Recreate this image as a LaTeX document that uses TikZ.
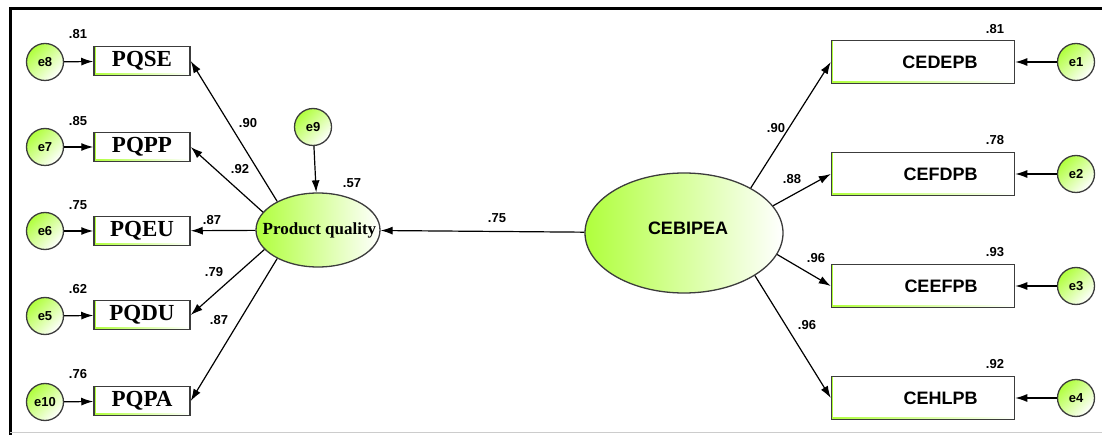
\documentclass[tikz,border=0pt]{standalone}
\usepackage{fontspec}
\setmainfont{Liberation Serif}
\setsansfont{Liberation Sans}
\usetikzlibrary{shapes,arrows.meta}
\definecolor{amosgreen}{RGB}{176,255,60}
\definecolor{edgegray}{RGB}{60,60,60}
\tikzset{
	latent/.style   = {draw=edgegray, line width=1.3pt, ellipse, inner sep=0pt,
		left color=amosgreen, right color=white},
	errc/.style     = {draw=edgegray, line width=1.3pt, circle, inner sep=0pt,
		minimum size=37pt, left color=amosgreen, right color=white, shading angle=45,
		font=\sffamily\bfseries\fontsize{13}{13}\selectfont},
	obsl/.style     = {draw=edgegray, line width=1.5pt, rectangle, fill=white,
		minimum width=96pt, minimum height=29pt, inner sep=0pt,
		font=\bfseries\fontsize{23}{23}\selectfont, stripe},
	obsr/.style     = {draw=edgegray, line width=1.5pt, rectangle, fill=white,
		text width=109pt, align=right, inner xsep=37pt, minimum height=43pt,
		font=\sffamily\bfseries\fontsize{18}{18}\selectfont, stripe},
	stripe/.style   = {path picture={
		\fill[left color=amosgreen, right color=white] (path picture bounding box.south west)
			rectangle ([yshift=1.8pt]path picture bounding box.south east);
		\fill[amosgreen] (path picture bounding box.south west)
			rectangle ([xshift=1.8pt]path picture bounding box.north west);}},
	coef/.style     = {font=\sffamily\bfseries\fontsize{13}{13}\selectfont}
}
\newcommand{\nowidth}[1]{\makebox[0pt]{#1}}

\begin{document}
\begin{tikzpicture}[x=1pt, y=-1pt, line width=1.2pt, >={Latex[length=12pt,width=8pt]}]
\useasboundingbox (0,0) rectangle (1102,435);
% frame
\draw[line width=3pt] (10,435) -- (10,9) -- (1102,9);
\draw[black!20, line width=1pt] (10,432) -- (1102,432);

\draw
% Drawing the blocks of product quality
node at (318,230)[latent, minimum width=124pt, minimum height=74pt] (pq)
	{\nowidth{\bfseries\fontsize{17}{17}\selectfont\,Product quality}}
node at (313,127)[errc] (e9) {e9}
node at (142,61)[obsl] (pqse) {PQSE}
node at (142,147)[obsl] (pqpp) {PQPP}
node at (142,231)[obsl] (pqeu) {PQEU}
node at (142,315)[obsl] (pqdu) {PQDU\hspace{14pt}}
node at (142,401)[obsl] (pqpa) {PQPA\hspace{8pt}}
node at (45,62)[errc] (e8) {e8}
node at (45,147)[errc] (e7) {e7}
node at (45,231)[errc] (e6) {e6}
node at (45,316)[errc] (e5) {e5}
node at (45,402)[errc] (e10) {e10}
% Drawing the blocks of CEBIPEA
node at (684,233)[latent, minimum width=198pt, minimum height=120pt] (ce)
	{\nowidth{\raisebox{9pt}{\sffamily\bfseries\fontsize{18}{18}\selectfont\hspace{8pt}CEBIPEA}}}
node at (923,62)[obsr] (cedepb) {CEDEPB}
node at (923,174)[obsr] (cefdpb) {CEFDPB}
node at (923,286)[obsr] (ceefpb) {CEEFPB}
node at (923,398)[obsr] (cehlpb) {CEHLPB}
node at (1076,62)[errc] (e1) {e1}
node at (1076,174)[errc] (e2) {e2}
node at (1076,286)[errc] (e3) {e3}
node at (1076,398)[errc] (e4) {e4};

\draw[->](ce) -- (pq);
\draw[->](e9) -- (pq);
\draw[->](pq.145) -- (pqse.east);
\draw[->](pq.162) -- (pqpp.east);
\draw[->](pq) -- (pqeu);
\draw[->](pq.200) -- (pqdu.east);
\draw[->](pq.215) -- (pqpa.east);
\draw[->](e8) -- (pqse);
\draw[->](e7) -- (pqpp);
\draw[->](e6) -- (pqeu);
\draw[->](e5) -- (pqdu);
\draw[->](e10) -- (pqpa);
\draw[->](ce.34) -- (cedepb.west);
\draw[->](ce.17) -- (cefdpb.west);
\draw[->](ce.-13) -- (ceefpb.west);
\draw[->](ce.-31) -- (cehlpb.west);
\draw[->](e1) -- (cedepb);
\draw[->](e2) -- (cefdpb);
\draw[->](e3) -- (ceefpb);
\draw[->](e4) -- (cehlpb);

% estimates
\draw
node[coef] at (78,34) (r8) {.81}
node[coef] at (78,121) (r7) {.85}
node[coef] at (78,205) (r6) {.75}
node[coef] at (78,289) (r5) {.62}
node[coef] at (78,374) (r10) {.76}
node[coef] at (248,123) (l1) {.90}
node[coef] at (240,169) (l2) {.92}
node[coef] at (212,220) (l3) {.87}
node[coef] at (214,272) (l4) {.79}
node[coef] at (219,320) (l5) {.87}
node[coef] at (352,183) (r9) {.57}
node[coef] at (497,218) (g1) {.75}
node[coef] at (995,29) (r1) {.81}
node[coef] at (995,140) (r2) {.78}
node[coef] at (995,252) (r3) {.93}
node[coef] at (995,364) (r4) {.92}
node[coef] at (776,128) (k1) {.90}
node[coef] at (792,179) (k2) {.88}
node[coef] at (816,258) (k3) {.96}
node[coef] at (807,325) (k4) {.96};
\end{tikzpicture}
\end{document}
